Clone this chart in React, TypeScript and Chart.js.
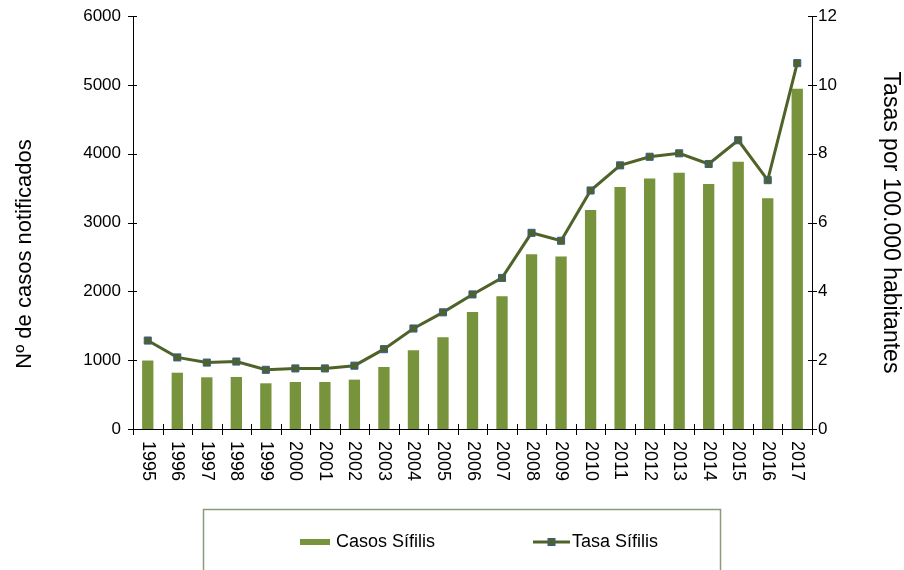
import React, { useEffect, useRef } from "react";
import { Chart, registerables } from "chart.js";

Chart.register(...registerables);

const years = ["1995","1996","1997","1998","1999","2000","2001","2002","2003","2004","2005","2006","2007","2008","2009","2010","2011","2012","2013","2014","2015","2016","2017"];
const casos = [995, 818, 751, 756, 664, 683, 683, 717, 901, 1144, 1333, 1700, 1929, 2539, 2505, 3183, 3517, 3638, 3721, 3561, 3881, 3353, 4942];
const tasa = [2.57, 2.08, 1.93, 1.96, 1.72, 1.76, 1.76, 1.84, 2.32, 2.92, 3.39, 3.91, 4.39, 5.70, 5.47, 6.93, 7.66, 7.91, 8.01, 7.70, 8.39, 7.23, 10.63];
const leftTicks = [0, 1000, 2000, 3000, 4000, 5000, 6000];
const rightTicks = [0, 2, 4, 6, 8, 10, 12];

const BAR = "#77933C";
const LINE = "#4F6228";
const MARKER_BORDER = "#385D8A";
const FONT = "'Liberation Sans', Arial, sans-serif";

const customPlugin = {
  id: "customDecor",
  afterDraw(chart: any) {
    const { ctx, scales, chartArea } = chart;
    const x = scales.x, y = scales.y, y1 = scales.y1;
    ctx.save();
    ctx.strokeStyle = "#000";
    ctx.lineWidth = 1;
    leftTicks.forEach((v) => {
      const py = Math.round(y.getPixelForValue(v)) + 0.5;
      ctx.beginPath();
      ctx.moveTo(chartArea.left - 5, py);
      ctx.lineTo(chartArea.left + 4, py);
      ctx.stroke();
    });
    rightTicks.forEach((v) => {
      const py = Math.round(y1.getPixelForValue(v)) + 0.5;
      ctx.beginPath();
      ctx.moveTo(chartArea.right - 4, py);
      ctx.lineTo(chartArea.right + 5, py);
      ctx.stroke();
    });
    const step = (chartArea.right - chartArea.left) / years.length;
    for (let i = 0; i <= years.length; i++) {
      const px = Math.round(x.getPixelForValue(0) - step / 2 + i * step) + 0.5;
      ctx.beginPath();
      ctx.moveTo(px, chartArea.bottom - 5);
      ctx.lineTo(px, chartArea.bottom + 6);
      ctx.stroke();
    }
    ctx.fillStyle = "#000";
    ctx.font = `18px ${FONT}`;
    ctx.textAlign = "left";
    ctx.textBaseline = "middle";
    years.forEach((lab, i) => {
      const px = x.getPixelForValue(i);
      ctx.save();
      ctx.translate(px, chartArea.bottom + 12);
      ctx.rotate(Math.PI / 2);
      ctx.fillText(lab, 0, 0);
      ctx.restore();
    });
    ctx.save();
    ctx.font = `22px ${FONT}`;
    ctx.textAlign = "center";
    ctx.textBaseline = "middle";
    ctx.translate(25, 254);
    ctx.rotate(-Math.PI / 2);
    ctx.fillText("Nº de casos notificados", 0, 0);
    ctx.restore();
    ctx.strokeStyle = "#8C9A7C";
    ctx.lineWidth = 1.5;
    ctx.strokeRect(203.5, 509.5, 517, 80);
    ctx.fillStyle = BAR;
    ctx.fillRect(300, 539, 30, 6);
    ctx.fillStyle = "#000";
    ctx.font = `18px ${FONT}`;
    ctx.textAlign = "left";
    ctx.textBaseline = "middle";
    ctx.fillText("Casos Sífilis", 336, 542);
    ctx.strokeStyle = LINE;
    ctx.lineWidth = 3;
    ctx.beginPath();
    ctx.moveTo(533, 542);
    ctx.lineTo(570, 542);
    ctx.stroke();
    ctx.fillStyle = LINE;
    ctx.fillRect(548, 538.5, 7, 7);
    ctx.strokeStyle = MARKER_BORDER;
    ctx.lineWidth = 1;
    ctx.strokeRect(548, 538.5, 7, 7);
    ctx.fillStyle = "#000";
    ctx.fillText("Tasa Sífilis", 572, 542);
    ctx.restore();
  },
};

export default function App() {
  const ref = useRef<HTMLCanvasElement>(null);
  useEffect(() => {
    if (!ref.current) return;
    Chart.defaults.font.family = FONT;
    Chart.defaults.color = "#000";
    const chart = new Chart(ref.current, {
      type: "bar",
      data: {
        labels: years,
        datasets: [
          {
            type: "line",
            label: "Tasa Sífilis",
            data: tasa,
            yAxisID: "y1",
            borderColor: LINE,
            borderWidth: 3,
            pointStyle: "rect",
            pointRadius: 5,
            pointBackgroundColor: LINE,
            pointBorderColor: MARKER_BORDER,
            pointBorderWidth: 1,
            tension: 0,
            order: 0,
          } as any,
          {
            type: "bar",
            label: "Casos Sífilis",
            data: casos,
            yAxisID: "y",
            backgroundColor: BAR,
            barPercentage: 0.383,
            categoryPercentage: 1,
            order: 1,
          },
        ],
      },
      options: {
        animation: false,
        responsive: false,
        devicePixelRatio: 1,
        layout: { padding: { top: 16, left: 0, right: 0, bottom: 0 } },
        plugins: { legend: { display: false }, tooltip: { enabled: false } },
        scales: {
          x: {
            offset: true,
            grid: { display: false, drawTicks: false },
            border: { display: true, color: "#000", width: 1 },
            ticks: { display: false },
            afterFit: (s: any) => { s.height = 141; s.paddingLeft = 0; s.paddingRight = 0; },
          },
          y: {
            position: "left",
            min: 0,
            max: 6000,
            ticks: { stepSize: 1000, padding: 12, font: { size: 17 }, color: "#000", callback: (v: any) => String(v) },
            grid: { display: false, drawTicks: false },
            border: { display: true, color: "#000", width: 1 },
            afterFit: (s: any) => { s.width = 133; s.paddingTop = 0; s.paddingBottom = 0; },
          },
          y1: {
            position: "right",
            min: 0,
            max: 12,
            ticks: { stepSize: 2, padding: 6, font: { size: 17 }, color: "#000", callback: (v: any) => String(v) },
            grid: { display: false, drawTicks: false },
            border: { display: true, color: "#000", width: 1 },
            title: {
              display: true,
              text: "Tasas por 100.000 habitantes",
              font: { size: 23 },
              color: "#000",
              padding: { top: 0, bottom: 0 },
            },
            afterFit: (s: any) => { s.width = 92; s.paddingTop = 0; s.paddingBottom = 0; },
          },
        },
      },
      plugins: [customPlugin],
    });
    return () => chart.destroy();
  }, []);
  return (
    <div style={{ position: "fixed", left: 0, top: 0, width: 904, height: 570, background: "#fff" }}>
      <canvas ref={ref} width={904} height={570} style={{ display: "block" }} />
    </div>
  );
}
